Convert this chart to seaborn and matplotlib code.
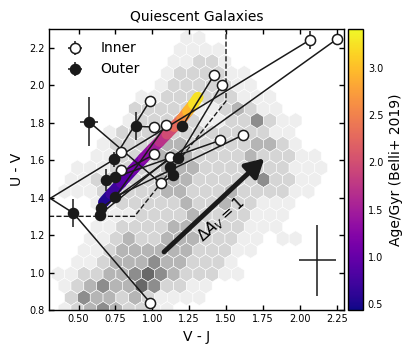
import numpy as np
import matplotlib
matplotlib.use("Agg")
import matplotlib.pyplot as plt
import seaborn as sns
from matplotlib.collections import LineCollection
from matplotlib.colors import Normalize
from matplotlib.cm import ScalarMappable

sns.set_theme(style="ticks")
plt.rcParams["font.family"] = ["DejaVu Sans"]
for key in ["axes.edgecolor", "text.color", "axes.labelcolor", "xtick.color", "ytick.color"]:
    plt.rcParams[key] = "black"

# --- inner (white) points, V-J / U-V ---
inner_vj = [0.986, 2.068, 2.255, 1.421, 1.473, 0.982, 1.009, 1.093, 0.789, 1.014, 1.122, 0.790, 1.059, 1.462, 1.617]
inner_uv = [0.839, 2.241, 2.248, 2.056, 2.003, 1.914, 1.777, 1.787, 1.642, 1.631, 1.615, 1.547, 1.476, 1.706, 1.735]
inner_vj_err = [0, 0, 0, 0, 0, 0, 0, 0, 0, 0, 0, 0, 0, 0, 0]
inner_uv_err = [0, 0.05, 0, 0, 0, 0, 0, 0, 0, 0, 0, 0, 0.02, 0, 0]

# --- outer (black) points ---
outer_vj = [0.464, 0.570, 0.887, 1.205, 0.739, 0.689, 0.745, 0.750, 1.174, 1.117, 1.144, 0.655, 0.644]
outer_uv = [1.318, 1.806, 1.780, 1.783, 1.606, 1.493, 1.508, 1.404, 1.610, 1.565, 1.520, 1.345, 1.309]
outer_vj_err = [0.03, 0.06, 0.02, 0, 0.02, 0, 0, 0, 0, 0, 0, 0, 0]
outer_uv_err = [0.077, 0.13, 0.075, 0, 0.04, 0.06, 0, 0, 0, 0, 0, 0, 0.03]

# --- inner/outer connecting lines (start -> end) ---
link_vj0 = [0.30, 0.30, 0.464, 0.655, 0.887, 0.739, 0.739, 0.570, 1.205, 1.174, 0.745, 0.750, 0.689, 0.644, 0.750, 0.689, 1.117, 1.144]
link_uv0 = [1.392, 1.400, 1.318, 1.345, 1.780, 1.606, 1.606, 1.806, 1.783, 1.610, 1.508, 1.404, 1.493, 1.309, 1.404, 1.493, 1.565, 1.520]
link_vj1 = [2.068, 0.464, 0.986, 2.255, 1.009, 0.982, 0.789, 1.059, 1.421, 1.473, 1.462, 1.617, 1.014, 1.122, 1.093, 0.790, 1.122, 1.059]
link_uv1 = [2.241, 1.318, 0.839, 2.248, 1.777, 1.914, 1.642, 1.476, 2.056, 2.003, 1.706, 1.735, 1.631, 1.615, 1.787, 1.547, 1.615, 1.476]

# --- Belli+2019 age track ---
track_vj = [0.67, 0.72, 0.79, 0.87, 0.94, 1.00, 1.05, 1.10, 1.15, 1.20, 1.24, 1.28, 1.31]
track_uv = [1.375, 1.42, 1.48, 1.55, 1.61, 1.66, 1.70, 1.74, 1.78, 1.82, 1.86, 1.90, 1.935]
track_age = [0.45, 0.6, 0.8, 1.0, 1.2, 1.4, 1.6, 1.85, 2.1, 2.45, 2.8, 3.1, 3.4]

# --- UVJ quiescent box ---
box_vj = [0.30, 0.88, 1.50, 1.50]
box_uv = [1.30, 1.30, 1.915, 2.30]

# --- reddening vector and typical error ---
av_tail = (1.08, 1.11)
av_head = (1.76, 1.61)
typ_vj, typ_uv = [2.12], [1.065]
typ_vj_err, typ_uv_err = [0.125], [0.19]

# --- background population, hex cell levels (top row -> bottom row) ---
hex_rows = [
    "000000000001100000000000",
    "00000000001111000000000",
    "000000000011221000000000",
    "00000000012222110000000",
    "000000000122222110000000",
    "00000001122222211100000",
    "000000022222112321100000",
    "00000012222211224211000",
    "000001222322222222110000",
    "00001222233222223321000",
    "000011222333222232221100",
    "00111222233322222221110",
    "001122222333222224221100",
    "01112222233222322221100",
    "000011222223223221110000",
    "00001112222322221110000",
    "000011222233222211100000",
    "00011232233322211011000",
    "000112333333222110000000",
    "00112333433222100000000",
    "011223345432221100000000",
    "01234335422110000000000",
    "002433232111100000000000",
    "01234322110000000000000",
]
hex_x0, hex_dx = 0.275, 0.087
hex_ytop, hex_dy = 0.866 + 22 * 0.063, 0.063

hx, hy, hc = [], [], []
for r, row in enumerate(hex_rows):
    k = 22 - r
    off = 0.0 if k % 2 == 0 else 0.5 * hex_dx
    for i, ch in enumerate(row):
        if ch != "0":
            hx.append(hex_x0 + off + i * hex_dx)
            hy.append(hex_ytop - r * hex_dy)
            hc.append(int(ch))

fig = plt.figure(figsize=(4.11, 3.53), dpi=100)
ax = fig.add_axes([49 / 411, 1 - 310 / 353, 295 / 411, 281 / 353])
cax = fig.add_axes([348 / 411, 1 - 310 / 353, 15 / 411, 281 / 353])

ax.hexbin(hx, hy, C=hc, gridsize=(23, 13),
          extent=(hex_x0, hex_x0 + 23 * hex_dx, 0.74, 0.74 + 13 * 0.126),
          reduce_C_function=np.sum, cmap="Greys", vmin=0, vmax=7.5,
          edgecolors="white", linewidths=0.4, zorder=0)

cmap = sns.color_palette("plasma", as_cmap=True)
norm = Normalize(vmin=0.44, vmax=3.41)
pts = np.column_stack([track_vj, track_uv])
segs = np.stack([pts[:-1], pts[1:]], axis=1)
lc = LineCollection(segs, cmap=cmap, norm=norm, linewidths=8,
                    capstyle="round", zorder=1)
lc.set_array(0.5 * (np.array(track_age[:-1]) + np.array(track_age[1:])))
ax.add_collection(lc)

ax.plot(box_vj, box_uv, color="k", ls="--", lw=1.0, zorder=2)

for x0, y0, x1, y1 in zip(link_vj0, link_uv0, link_vj1, link_uv1):
    ax.plot([x0, x1], [y0, y1], color="k", lw=1.1, zorder=2)

ax.errorbar(inner_vj, inner_uv, xerr=inner_vj_err, yerr=inner_uv_err, fmt="o",
            ms=7.3, mfc="white", mec="k", mew=1.1, ecolor="k", elinewidth=1.1,
            capsize=0, label="Inner", zorder=4)
ax.errorbar(outer_vj, outer_uv, xerr=outer_vj_err, yerr=outer_uv_err, fmt="o",
            ms=7.3, mfc="k", mec="k", ecolor="k", elinewidth=1.1,
            capsize=0, label="Outer", zorder=4)

ax.errorbar(typ_vj, typ_uv, xerr=typ_vj_err, yerr=typ_uv_err, fmt="none",
            ecolor="k", elinewidth=1.1, capsize=0)

ax.annotate("", xy=av_head, xytext=av_tail,
            arrowprops=dict(arrowstyle="-|>,head_width=0.5,head_length=0.9",
                            lw=3.5, color="k", shrinkA=0, shrinkB=0), zorder=3)
ax.text(1.47, 1.28, r"$\Delta A_V = 1$", rotation=42, ha="center", va="center",
        fontsize=11)

ax.set_xlim(0.3, 2.3)
ax.set_ylim(0.8, 2.3)
ax.set_xticks([0.5, 0.75, 1.0, 1.25, 1.5, 1.75, 2.0, 2.25])
ax.set_xticklabels(["0.50", "0.75", "1.00", "1.25", "1.50", "1.75", "2.00", "2.25"])
ax.set_yticks([0.8, 1.0, 1.2, 1.4, 1.6, 1.8, 2.0, 2.2])
ax.set_yticklabels(["0.8", "1.0", "1.2", "1.4", "1.6", "1.8", "2.0", "2.2"])
ax.tick_params(direction="in", top=True, right=True, length=3.5, width=1,
               labelsize=7, pad=3)
for sp in ax.spines.values():
    sp.set_linewidth(1.0)
ax.set_xlabel("V - J", fontsize=10)
ax.set_ylabel("U - V", fontsize=10)
ax.set_title("Quiescent Galaxies", fontsize=10)
ax.legend(loc="upper left", frameon=False, fontsize=10)

cb = fig.colorbar(ScalarMappable(norm=norm, cmap=cmap), cax=cax)
cb.set_ticks([0.5, 1.0, 1.5, 2.0, 2.5, 3.0])
cb.ax.tick_params(direction="in", length=3, labelsize=7)
cb.outline.set_linewidth(1.0)
cb.set_label("Age/Gyr (Belli+ 2019)", fontsize=10)

fig.savefig("out.png", dpi=100)
plt.close(fig)
